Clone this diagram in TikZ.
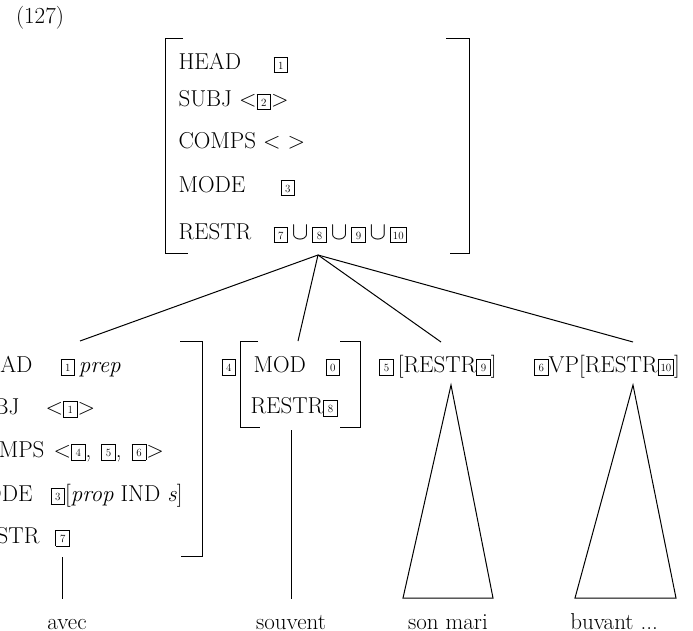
\documentclass[tikz,border=0pt]{standalone}
\usepackage{fontspec}

% boxed tag numbers
\newcommand{\bx}[2][9pt]{{\setlength{\fboxsep}{2pt}\setlength{\fboxrule}{0.8pt}%
  \raisebox{0.5pt}{\fbox{\rule[-1pt]{0pt}{11pt}\makebox[#1]{\fontsize{11}{11}\selectfont #2}}}}}

\tikzset{
  avm/.style={anchor=base west, inner sep=0pt, font=\fontsize{23}{27}\selectfont},
  avml/.style={anchor=base east, inner sep=0pt, font=\fontsize{23}{27}\selectfont},
  word/.style={anchor=base, inner sep=0pt, font=\fontsize{23}{27}\selectfont},
}

\begin{document}
\begin{tikzpicture}[x=1pt, y={(0,-1pt)}, line width=1pt]
        \useasboundingbox (0,0) rectangle (693,631);
        \node [word] (num) at (40,24) {(127)};

        % mother
        \draw (183,39) -| (165,253) -- (188,253);
        \draw (446,39) -| (469,253) -- (450,253);
        \node [avm] (mhead) at (178,70) {HEAD};
        \node [avm] (mheadv) at (273,70) {\bx{1}};
        \node [avm] (msubj) at (178,107) {SUBJ <\bx{2}>};
        \node [avm] (mcomps) at (178,149) {COMPS < >};
        \node [avm] (mmode) at (178,193) {MODE};
        \node [avm] (mmodev) at (280,193) {\bx{3}};
        \node [avm] (mrestr) at (178,240) {RESTR};
        \node [avm] (mrestrv) at (273,240) {\bx{7}\,$\cup$\,\bx{8}\,$\cup$\,\bx{9}\,$\cup$\,\bx[11pt]{10}};

        % head daughter
        \draw (180,341) -| (202,556) -- (181,556);
        \node [avml] (phead) at (33,372) {HEAD};
        \node [avm] (pheadv) at (60,372) {\bx{1}\,\textit{prep}};
        \node [avml] (psubj) at (20,414) {SUBJ};
        \node [avm] (psubjv) at (45,414) {<\bx{1}>};
        \node [avml] (pcomps) at (45,457) {COMPS};
        \node [avm] (pcompsv) at (53,457) {<\bx{4},\hspace{10pt}\bx{5},\hspace{10pt}\bx{6}>};
        \node [avml] (pmode) at (33,501) {MODE};
        \node [avm] (pmodev) at (50,501) {\bx{3}[\textit{prop} IND \textit{s}]};
        \node [avml] (prestr) at (40,543) {RESTR};
        \node [avm] (prestrv) at (55,543) {\bx{7}};

        % adverb
        \node [avm] (advtag) at (221,372) {\bx{4}};
        \draw (258,341) -| (240,427) -- (260,427);
        \draw (340,341) -| (360,427) -- (340,427);
        \node [avm] (amod) at (253,372) {MOD};
        \node [avm] (amodv) at (325,372) {\bx{0}};
        \node [avm] (arestr) at (250,413) {RESTR\bx{8}};

        % complements
        \node [word] (np) at (438,372) {\bx{5}\,[RESTR\bx{9}]};
        \node [word] (vp) at (607,372) {\bx{6}VP[RESTR\bx[11pt]{10}]};

        % words
        \node [word] (avec) at (67,629) {avec};
        \node [word] (souvent) at (291,629) {souvent};
        \node [word] (sonmari) at (448,629) {son mari};
        \node [word] (buvant) at (614,629) {buvant ...};

        % branches
        \coordinate (root) at (318,255);
        \coordinate (ptop) at (80,341);
        \coordinate (atop) at (298,341);
        \coordinate (nptop) at (441,342);
        \coordinate (vptop) at (633,342);
        \foreach \c in {ptop,atop,nptop,vptop}
            \draw (root) -- (\c);

        \coordinate (pfoot) at (62,557);
        \coordinate (afoot) at (291,430);
        \draw (pfoot) -- ++(0,42);
        \draw (afoot) -- ++(0,169);

        \coordinate (nptip) at (451,385);
        \coordinate (vptip) at (633,385);
        \draw (nptip) -- (403,598) -- (493,598) -- cycle;
        \draw (vptip) -- (575,598) -- (676,598) -- cycle;
\end{tikzpicture}
\end{document}
